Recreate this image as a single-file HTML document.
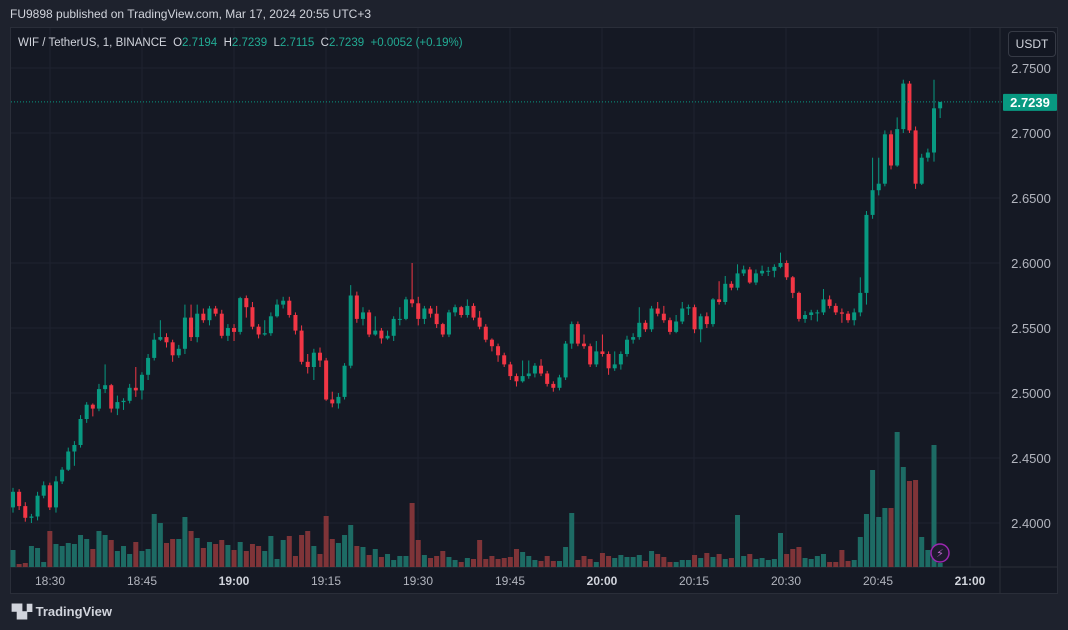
<!DOCTYPE html>
<html><head><meta charset="utf-8">
<style>
body{margin:0;width:1068px;height:630px;background:#1e222d;overflow:hidden;font-family:"Liberation Sans",sans-serif;}
#hdr{position:absolute;left:10px;top:7px;color:#d1d4dc;font-size:12px;}
#pane{position:absolute;left:10px;top:27px;width:1048px;height:567px;background:#151924;border:1px solid #2a2e39;box-sizing:border-box;}
#legend{position:absolute;left:18px;top:37px;font-size:11.5px;color:#d1d4dc;}
#legend .g{color:#22ab94;}
#usdt{position:absolute;left:1008px;top:31px;width:46px;height:24px;border:1px solid #363a45;border-radius:4px;background:#131722;color:#d1d4dc;font-size:12px;line-height:24px;text-align:center;}
#foot{position:absolute;left:12px;top:604px;color:#d1d4dc;font-size:13px;font-weight:bold;}
svg{position:absolute;left:0;top:0;}
</style></head><body>
<div id="hdr">FU9898 published on TradingView.com, Mar 17, 2024 20:55 UTC+3</div>
<div id="pane"></div>
<svg id="chart" width="1068" height="630"></svg>
<div id="legend">WIF / TetherUS, 1, BINANCE&nbsp; O<span class="g">2.7194</span>&nbsp; H<span class="g">2.7239</span>&nbsp; L<span class="g">2.7115</span>&nbsp; C<span class="g">2.7239</span>&nbsp; <span class="g">+0.0052 (+0.19%)</span></div>
<div id="usdt">USDT</div>
<div id="foot">▜▞ TradingView</div>
<script>
const priceTicks=[2.75,2.70,2.65,2.60,2.55,2.50,2.45,2.40];
const timeLabels=["18:30","18:45","19:00","19:15","19:30","19:45","20:00","20:15","20:30","20:45","21:00"];
const timeBold=[false,false,true,false,false,false,true,false,false,false,true];
const firstOpen=2.412;
const closes=[2.424,2.413,2.404,2.405,2.421,2.429,2.412,2.432,2.441,2.455,2.460,2.480,2.491,2.488,2.503,2.506,2.488,2.493,2.494,2.504,2.502,2.514,2.527,2.541,2.543,2.539,2.529,2.534,2.558,2.543,2.561,2.556,2.565,2.561,2.544,2.550,2.547,2.573,2.566,2.551,2.545,2.546,2.559,2.568,2.571,2.560,2.548,2.524,2.520,2.531,2.525,2.495,2.492,2.497,2.521,2.575,2.557,2.562,2.545,2.548,2.542,2.544,2.557,2.557,2.572,2.569,2.557,2.565,2.561,2.553,2.545,2.562,2.566,2.560,2.567,2.558,2.551,2.541,2.536,2.529,2.522,2.513,2.509,2.513,2.515,2.521,2.515,2.507,2.504,2.512,2.538,2.553,2.538,2.536,2.522,2.532,2.530,2.519,2.522,2.530,2.541,2.543,2.554,2.549,2.565,2.561,2.556,2.547,2.555,2.565,2.566,2.549,2.559,2.553,2.572,2.570,2.584,2.581,2.592,2.595,2.585,2.592,2.594,2.594,2.597,2.600,2.589,2.577,2.557,2.560,2.562,2.562,2.572,2.567,2.562,2.561,2.556,2.562,2.577,2.637,2.656,2.661,2.699,2.675,2.703,2.738,2.702,2.661,2.681,2.685,2.719,2.7239];
const highs=[2.427,2.426,2.416,2.407,2.424,2.432,2.431,2.436,2.443,2.458,2.463,2.483,2.493,2.492,2.507,2.522,2.507,2.498,2.496,2.507,2.520,2.516,2.530,2.546,2.556,2.546,2.541,2.537,2.568,2.568,2.568,2.565,2.567,2.567,2.564,2.553,2.553,2.574,2.575,2.570,2.553,2.556,2.562,2.572,2.574,2.574,2.562,2.552,2.530,2.534,2.535,2.527,2.501,2.500,2.523,2.583,2.578,2.566,2.564,2.559,2.550,2.548,2.559,2.566,2.574,2.600,2.574,2.567,2.567,2.567,2.554,2.564,2.568,2.567,2.572,2.569,2.563,2.553,2.542,2.538,2.531,2.524,2.515,2.525,2.525,2.523,2.526,2.517,2.509,2.514,2.540,2.555,2.555,2.545,2.538,2.540,2.545,2.532,2.532,2.532,2.544,2.546,2.566,2.556,2.567,2.570,2.567,2.558,2.560,2.570,2.568,2.568,2.561,2.562,2.573,2.586,2.590,2.586,2.599,2.598,2.597,2.595,2.598,2.597,2.599,2.608,2.602,2.590,2.578,2.563,2.564,2.564,2.580,2.575,2.569,2.565,2.563,2.565,2.589,2.640,2.681,2.681,2.702,2.702,2.712,2.741,2.740,2.705,2.684,2.688,2.741,2.7239];
const lows=[2.408,2.410,2.401,2.400,2.402,2.419,2.410,2.408,2.430,2.440,2.444,2.458,2.477,2.482,2.486,2.500,2.485,2.483,2.487,2.492,2.497,2.495,2.510,2.525,2.540,2.535,2.524,2.527,2.530,2.540,2.539,2.554,2.552,2.559,2.542,2.540,2.540,2.545,2.558,2.549,2.542,2.544,2.544,2.558,2.565,2.558,2.545,2.522,2.515,2.510,2.520,2.494,2.489,2.488,2.495,2.519,2.554,2.552,2.543,2.544,2.538,2.541,2.540,2.552,2.556,2.566,2.552,2.553,2.558,2.550,2.543,2.543,2.559,2.558,2.558,2.556,2.549,2.539,2.532,2.524,2.520,2.510,2.505,2.508,2.511,2.512,2.513,2.505,2.501,2.502,2.510,2.534,2.536,2.534,2.520,2.520,2.528,2.514,2.517,2.518,2.528,2.538,2.541,2.547,2.547,2.559,2.554,2.545,2.546,2.553,2.560,2.546,2.539,2.550,2.551,2.568,2.568,2.579,2.579,2.590,2.584,2.583,2.590,2.590,2.589,2.596,2.587,2.573,2.555,2.554,2.556,2.555,2.560,2.565,2.560,2.554,2.554,2.552,2.559,2.568,2.634,2.652,2.659,2.672,2.674,2.700,2.700,2.657,2.660,2.678,2.678,2.7115];
const volumes=[17,3,4,21,19,5,36,23,21,24,23,32,28,18,36,32,27,16,21,13,25,16,18,53,44,24,28,28,50,36,29,19,25,23,27,22,17,25,16,23,21,16,31,8,27,31,11,32,36,21,13,51,28,24,32,42,21,20,12,18,10,13,7,11,11,64,27,12,9,11,16,10,7,5,9,8,27,8,11,8,9,10,18,15,11,7,6,11,6,6,20,54,7,11,8,5,14,11,9,12,10,10,12,6,16,13,10,5,5,7,7,12,9,14,10,13,8,9,52,11,13,8,9,7,8,34,13,18,20,9,8,11,13,5,5,17,6,7,30,53,97,50,59,59,135,100,86,87,30,17,122,4];

const NS="http://www.w3.org/2000/svg";
const svg=document.getElementById('chart');
const plotL=11,plotR=1000,plotT=28,plotB=567;
const x0=13,step=6.14;
function xScale(i){return x0+i*step;}
function yScale(p){return 68+(2.75-p)*1300;}
function vScale(v){return 567-v;}
function timeX(k){return 50+k*92;}
function mk(tag,attrs,parent){const e=document.createElementNS(NS,tag);for(const k in attrs)e.setAttribute(k,attrs[k]);(parent||svg).appendChild(e);return e;}

priceTicks.forEach((p,i)=>{
  const l=mk('line',{x1:plotL,x2:plotR,y1:yScale(p),y2:yScale(p),stroke:'#1f2330','stroke-width':1});
  
  
  const t=mk('text',{x:1031,y:yScale(p)+5,'text-anchor':'middle',fill:'#b2b5be','font-size':13,'font-family':'Liberation Sans, sans-serif'});
  t.textContent=p.toFixed(4);
  
  
});
timeLabels.forEach((s,k)=>{
  const l=mk('line',{x1:timeX(k),x2:timeX(k),y1:plotT,y2:plotB,stroke:'#1f2330','stroke-width':1});
  
  
  const t=mk('text',{x:timeX(k),y:585,'text-anchor':'middle',fill:timeBold[k]?'#d1d4dc':'#b2b5be','font-size':12,'font-weight':timeBold[k]?'bold':'normal','font-family':'Liberation Sans, sans-serif'});
  t.textContent=s;
  
  
});
mk('line',{x1:plotL,x2:1058,y1:567,y2:567,stroke:'#2a2e39'});
mk('line',{x1:1000,x2:1000,y1:28,y2:594,stroke:'#2a2e39'});

volumes.forEach((v,i)=>{
  const o=i===0?firstOpen:closes[i-1], up=closes[i]>=o;
  const r=mk('rect',{x:xScale(i)-2.5,y:vScale(v),width:5,height:v,fill:up?'#1d6b64':'#7f3438'});
  
  
});
closes.forEach((c,i)=>{
  const o=i===0?firstOpen:closes[i-1], up=c>=o, col=up?'#089981':'#f23645';
  const g=mk('g',{});
  
  
  mk('line',{x1:xScale(i),x2:xScale(i),y1:yScale(highs[i]),y2:yScale(lows[i]),stroke:col,'stroke-width':1},g);
  const y1=yScale(Math.max(o,c)),h=Math.max(1,yScale(Math.min(o,c))-y1);
  mk('rect',{x:xScale(i)-2,y:y1,width:4,height:h,fill:col},g);
});
const last=closes[closes.length-1];
const pl=mk('line',{x1:plotL,x2:1002,y1:yScale(last),y2:yScale(last),stroke:'#089981','stroke-dasharray':'1 2'});


const lb=mk('rect',{x:1003,y:yScale(last)-8,width:54,height:17,fill:'#089981',rx:1});


const lt=mk('text',{x:1030,y:yScale(last)+5,'text-anchor':'middle',fill:'#ffffff','font-size':13,'font-weight':'bold','font-family':'Liberation Sans, sans-serif'});
lt.textContent=last.toFixed(4);


const ic=mk('circle',{cx:940,cy:553,r:9,fill:'#1e1a2e',stroke:'#9c27b0','stroke-width':1.5});


const it=mk('text',{x:940,y:557,'text-anchor':'middle',fill:'#ba68c8','font-size':11,'font-family':'DejaVu Sans, sans-serif'});
it.textContent='⚡';


</script>
</body></html>
